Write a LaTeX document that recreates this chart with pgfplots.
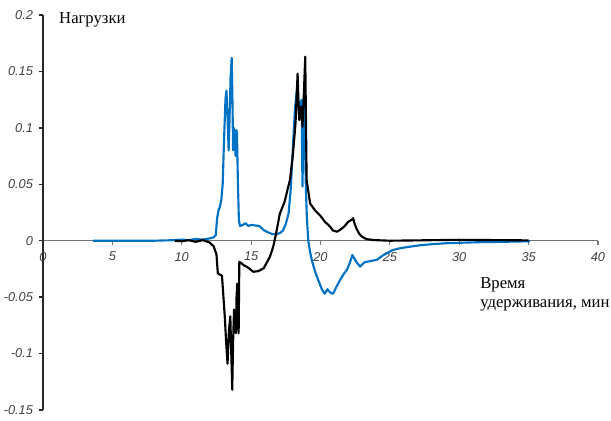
\documentclass[border=0pt]{standalone}
\usepackage{fontspec}
\setmainfont{Liberation Serif}
\newfontfamily\arialfont{Liberation Sans}
\usepackage{pgfplots}
\pgfplotsset{compat=1.18}
\definecolor{blueline}{RGB}{0,114,198}
\begin{document}
\begin{tikzpicture}
\useasboundingbox (-32.25pt,-8.25pt) rectangle (426pt,307.5pt);
\begin{axis}[
  scale only axis,
  width=416.25pt, height=296.25pt,
  xmin=0, xmax=40, ymin=-0.15, ymax=0.2,
  axis x line=middle, axis y line=left,
  hide obscured x ticks=false, hide obscured y ticks=false,
  x axis line style={-, draw=black!55, line width=1pt},
  y axis line style={-, draw=black!85, line width=1.2pt},
  xtick={0,5,10,15,20,25,30,35,40},
  xticklabels={0,5,10,15,20,25,30,35,40},
  ytick={-0.15,-0.1,-0.05,0,0.05,0.1,0.15,0.2},
  yticklabels={-0.15,-0.1,-0.05,0,0.05,0.1,0.15,0.2},
  tick align=outside,
  major tick length=3pt,
  x tick style={draw=black!55, line width=0.8pt},
  y tick style={draw=black!85, line width=1pt},
  ticklabel style={font=\arialfont\itshape\fontsize{9.6}{11}\selectfont, text=black!75},
  yticklabel style={xshift=-1pt},
  xticklabel style={yshift=-2pt},
  clip=false,
]
\addplot[blueline, line width=1.6pt, line join=round] coordinates {
(3.6,0) (5,0) (8,0) (9.5,0.0005) (10,0.001) (10.5,0.0005) (11,0.0015) (11.5,0.001) (12,0.002) (12.3,0.003) (12.45,0.005) (12.55,0.02) (12.65,0.027) (12.75,0.03) (12.85,0.036) (12.95,0.05) (13.05,0.09) (13.15,0.125) (13.22,0.133) (13.3,0.11) (13.38,0.08) (13.45,0.11) (13.52,0.145) (13.6,0.162) (13.66,0.12) (13.7,0.08) (13.76,0.1) (13.82,0.095) (13.88,0.075) (13.94,0.098) (13.98,0.095) (14.05,0.05) (14.12,0.018) (14.2,0.013) (14.4,0.014) (14.6,0.0155) (14.8,0.013) (15.0,0.014) (15.3,0.0135) (15.6,0.013) (15.9,0.0095) (16.2,0.0075) (16.5,0.006) (16.8,0.0055) (17.1,0.007) (17.3,0.009) (17.5,0.015) (17.7,0.024) (17.85,0.045) (18.0,0.08) (18.15,0.115) (18.3,0.134) (18.4,0.125) (18.47,0.11) (18.55,0.12) (18.64,0.125) (18.7,0.048) (18.76,0.09) (18.82,0.131) (18.88,0.09) (18.95,0.045) (19.02,0.02) (19.12,0.0) (19.25,-0.01) (19.37,-0.017) (19.6,-0.027) (19.84,-0.035) (20.1,-0.043) (20.3,-0.047) (20.5,-0.043) (20.7,-0.046) (20.9,-0.047) (21.1,-0.042) (21.4,-0.035) (21.7,-0.029) (21.9,-0.026) (22.1,-0.02) (22.3,-0.0127) (22.45,-0.016) (22.6,-0.019) (22.85,-0.023) (23.0,-0.021) (23.2,-0.019) (23.6,-0.018) (24.05,-0.017) (24.5,-0.013) (25.2,-0.0083) (25.8,-0.0065) (26.45,-0.0053) (27.2,-0.004) (28.1,-0.003) (29,-0.0023) (30.05,-0.0018) (31.5,-0.0013) (33,-0.001) (35.1,-0.0005)
};
\addplot[black, line width=1.6pt, line join=round] coordinates {
(9.5,0) (10,-0.0005) (10.5,0.0005) (11,-0.001) (11.5,0.0005) (12,-0.0015) (12.3,-0.005) (12.5,-0.012) (12.6,-0.029) (12.9,-0.031) (13.1,-0.067) (13.2,-0.09) (13.3,-0.109) (13.4,-0.08) (13.5,-0.067) (13.57,-0.1) (13.64,-0.132) (13.7,-0.09) (13.77,-0.061) (13.84,-0.075) (13.9,-0.082) (13.95,-0.05) (14.0,-0.038) (14.05,-0.07) (14.1,-0.082) (14.15,-0.0186) (14.3,-0.02) (14.5,-0.022) (14.68,-0.023) (14.9,-0.025) (15.15,-0.0275) (15.5,-0.027) (15.9,-0.0245) (16.1,-0.02) (16.36,-0.014) (16.6,-0.005) (16.8,0.0065) (17.07,0.024) (17.4,0.034) (17.8,0.054) (18.0,0.075) (18.2,0.104) (18.35,0.148) (18.42,0.12) (18.47,0.107) (18.6,0.119) (18.7,0.101) (18.8,0.13) (18.9,0.163) (18.95,0.11) (19.0,0.054) (19.25,0.033) (19.6,0.027) (20.0,0.022) (20.3,0.017) (20.7,0.0124) (20.9,0.009) (21.2,0.008) (21.45,0.01) (21.7,0.0124) (22.0,0.0168) (22.3,0.019) (22.35,0.020) (22.45,0.0154) (22.6,0.0105) (22.8,0.006) (23.0,0.0035) (23.3,0.0015) (23.8,0.0006) (25,0.0) (27,0.0003) (30,0.0008) (33,0.0005) (35,0.0003)
};
\node[anchor=base west, inner sep=0pt, font=\fontsize{12.5}{14}\selectfont] at (axis cs:1.15,0.1925) {Нагрузки};
\node[anchor=base west, inner sep=0pt, font=\fontsize{12.5}{14}\selectfont] at (axis cs:31.5,-0.0419) {Время};
\node[anchor=base west, inner sep=0pt, font=\fontsize{12.5}{14}\selectfont] at (axis cs:31.5,-0.0588) {удерживания, мин};
\end{axis}
\end{tikzpicture}
\end{document}
